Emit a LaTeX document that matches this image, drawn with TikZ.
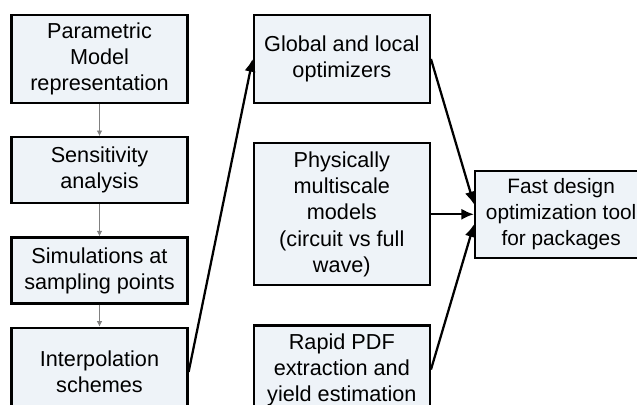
\documentclass[tikz,border=0pt]{standalone}
\usepackage{fontspec}
\setmainfont{Liberation Sans}
\usetikzlibrary{positioning, arrows.meta}
\definecolor{boxfill}{HTML}{EEF3F8}

\begin{document}
\begin{tikzpicture}[x=0.025cm, y=-0.025cm,
	blocco/.style={rectangle, draw, line width=1.6pt, fill=boxfill, minimum width=4.4cm, inner sep=0pt, align=center, font=\fontsize{15.4}{18.6}\selectfont},
	passo/.style={-{Latex[length=4pt, width=4pt]}, gray, line width=0.6pt},
	freccia/.style={-{Latex[length=9pt, width=8pt]}, line width=1.6pt}]
	\clip (0,0) rectangle (637,405);

	% Catena a sinistra
	\node[blocco, minimum height=2.2cm] (param) at (99.5,59) {Parametric\\Model\\representation};
	\node[blocco, below=0.8cm of param, minimum height=1.65cm] (sens) {Sensitivity\\analysis};
	\node[blocco, below=0.8cm of sens, minimum height=1.65cm] (sim) {Simulations at\\sampling points};
	\node[blocco, below=0.55cm of sim, minimum height=2.2cm] (interp) {Interpolation\\schemes};

	% Colonna centrale
	\node[blocco, right=1.6cm of param, minimum height=2.2cm] (global) {Global and local\\optimizers};
	\node[blocco, below=0.95cm of global, minimum height=3.55cm] (phys) {Physically\\multiscale\\models\\(circuit vs full\\wave)};
	\node[blocco, below=0.95cm of phys, minimum height=2.2cm] (rapid) {Rapid PDF\\extraction and\\yield estimation};

	% Obiettivo
	\node[blocco, right=1.075cm of phys, minimum height=2.175cm, minimum width=4.3cm, font=\fontsize{14.8}{18.6}\selectfont] (fast) {Fast design\\optimization tool\\for packages};

	% Connessioni
	\draw[passo] (param) -- (sens);
	\draw[passo] (sens) -- (sim);
	\draw[passo] (sim) -- (interp);
	\draw[freccia] (interp.east) -- (global.west);
	\draw[freccia] (global.east) -- ([yshift=0.25cm]fast.west);
	\draw[freccia] (phys) -- (fast);
	\draw[freccia] (rapid.east) -- ([yshift=-0.25cm]fast.west);
\end{tikzpicture}
\end{document}
